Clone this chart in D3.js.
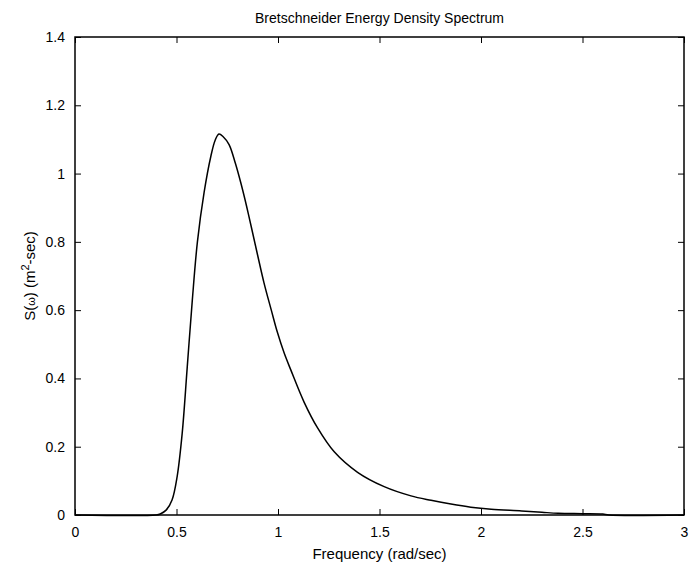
<html>
<meta charset="utf-8">
<body style="margin:0;background:#fff">
<script src="https://d3js.org/d3.v7.min.js"></script>
<div id="my_dataviz"></div>
<script>
// spectrum
var omega = [0, 0.40, 0.42, 0.45, 0.478, 0.503, 0.528, 0.553, 0.578, 0.603, 0.636, 0.669, 0.69, 0.709, 0.73, 0.759, 0.79, 0.818, 0.845, 0.868, 0.90, 0.931, 0.967, 0.997, 1.03, 1.063, 1.129, 1.195, 1.277, 1.392, 1.523, 1.655, 1.754, 1.852, 1.95, 2.05, 2.2, 2.3, 2.38, 2.5, 2.6, 2.63, 3.0]
var spectrum = [0, 0, 0.003, 0.015, 0.044, 0.112, 0.239, 0.434, 0.63, 0.80, 0.945, 1.05, 1.097, 1.116, 1.108, 1.085, 1.03, 0.97, 0.905, 0.845, 0.76, 0.68, 0.60, 0.535, 0.475, 0.425, 0.330, 0.255, 0.185, 0.125, 0.083, 0.056, 0.043, 0.032, 0.023, 0.017, 0.012, 0.008, 0.005, 0.004, 0.003, 0, 0]
var xTicks = [0, 0.5, 1, 1.5, 2, 2.5, 3]
var yTicks = [0, 0.2, 0.4, 0.6, 0.8, 1, 1.2, 1.4]

var data = omega.map(function(w, i) { return {w: w, s: spectrum[i]} })

var margin = {top: 37, right: 5, bottom: 56, left: 75},
    width = 689 - margin.left - margin.right,
    height = 571 - margin.top - margin.bottom

var svg = d3.select("#my_dataviz")
  .append("svg")
    .attr("width", 689)
    .attr("height", 571)
    .style("font-family", "'Liberation Sans', Arial, sans-serif")
  .append("g")
    .attr("transform", "translate(" + margin.left + "," + margin.top + ")")

var x = d3.scaleLinear().domain([0, 3]).range([0, width])
var y = d3.scaleLinear().domain([0, 1.4]).range([height, 0])

function styleAxis(g) {
  g.select(".domain").remove()
  g.selectAll(".tick line").attr("stroke", "#000").attr("stroke-width", 1)
  g.selectAll(".tick text").attr("fill", "#000").style("font-size", "14px")
}

// bottom + left axes with labels, ticks pointing inward
svg.append("g")
  .attr("transform", "translate(0," + height + ")")
  .call(d3.axisBottom(x).tickValues(xTicks).tickFormat(d3.format("")).tickSizeInner(-6).tickSizeOuter(0).tickPadding(12))
  .call(styleAxis)

svg.append("g")
  .call(d3.axisLeft(y).tickValues(yTicks).tickFormat(d3.format("")).tickSizeInner(-6).tickSizeOuter(0).tickPadding(10))
  .call(styleAxis)

// top + right ticks without labels
svg.append("g")
  .call(d3.axisTop(x).tickValues(xTicks).tickFormat("").tickSizeInner(-6).tickSizeOuter(0))
  .call(styleAxis)

svg.append("g")
  .attr("transform", "translate(" + width + ",0)")
  .call(d3.axisRight(y).tickValues(yTicks).tickFormat("").tickSizeInner(-6).tickSizeOuter(0))
  .call(styleAxis)

// frame
svg.append("rect")
  .attr("width", width)
  .attr("height", height)
  .attr("fill", "none")
  .attr("stroke", "#000")
  .attr("stroke-width", 1.5)

// the curve
svg.append("path")
  .datum(data)
  .attr("fill", "none")
  .attr("stroke", "#000")
  .attr("stroke-width", 1.5)
  .attr("d", d3.line()
    .x(function(d) { return x(d.w) })
    .y(function(d) { return y(d.s) })
    .curve(d3.curveCatmullRom.alpha(0.5)))

// title and axis labels
svg.append("text")
  .attr("x", width / 2)
  .attr("y", -14)
  .attr("text-anchor", "middle")
  .style("font-size", "14px")
  .text("Bretschneider Energy Density Spectrum")

svg.append("text")
  .attr("x", width / 2)
  .attr("y", height + 44)
  .attr("text-anchor", "middle")
  .style("font-size", "15px")
  .text("Frequency (rad/sec)")

var ylab = svg.append("text")
  .attr("transform", "translate(-40," + (height / 2) + ") rotate(-90)")
  .attr("text-anchor", "middle")
  .style("font-size", "15px")
ylab.append("tspan").text("S(")
ylab.append("tspan").style("font-size", "11px").text("ω")
ylab.append("tspan").text(") (m")
ylab.append("tspan").attr("dy", -6).style("font-size", "11px").text("2")
ylab.append("tspan").attr("dy", 6).text("-sec)")
</script>
</body>
</html>
